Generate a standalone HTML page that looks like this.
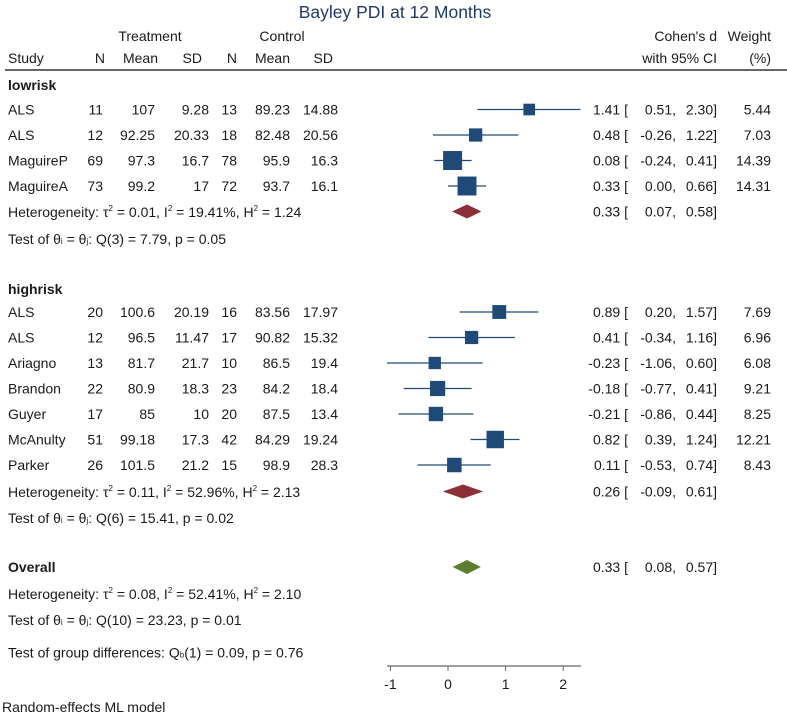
<!DOCTYPE html>
<html><head><meta charset="utf-8"><style>
body{margin:0;background:#fff}
svg{display:block;font-family:"Liberation Sans",Arial,sans-serif}
text{fill:#1a1a1a;font-size:14px}
</style></head><body>
<svg id="chart" width="787" height="714" viewBox="0 0 787 714">
<text x="395" y="18" text-anchor="middle" style="font-size:17.5px;fill:#1f3a68">Bayley PDI at 12 Months</text>
<g>
<text x="150" y="41" text-anchor="middle">Treatment</text>
<text x="282" y="41" text-anchor="middle">Control</text>
<text x="8" y="63">Study</text>
<text x="105" y="63" text-anchor="end">N</text>
<text x="158" y="63" text-anchor="end">Mean</text>
<text x="202" y="63" text-anchor="end">SD</text>
<text x="237" y="63" text-anchor="end">N</text>
<text x="290" y="63" text-anchor="end">Mean</text>
<text x="333" y="63" text-anchor="end">SD</text>
<text x="717" y="41" text-anchor="end">Cohen's d</text>
<text x="717" y="63" text-anchor="end">with 95% CI</text>
<text x="771" y="41" text-anchor="end">Weight</text>
<text x="771" y="63" text-anchor="end">(%)</text>
</g>
<line x1="5" y1="70" x2="787" y2="70" stroke="#333" stroke-width="1.5"/>
<g id="rows"></g>
<g id="axis"></g>
<text x="2" y="712">Random-effects ML model</text>
</svg>
<script>
const studies = ["ALS","ALS","MaguireP","MaguireA","ALS","ALS","Ariagno","Brandon","Guyer","McAnulty","Parker"];
const tN = ["11","12","69","73","20","12","13","22","17","51","26"];
const tMean = ["107","92.25","97.3","99.2","100.6","96.5","81.7","80.9","85","99.18","101.5"];
const tSD = ["9.28","20.33","16.7","17","20.19","11.47","21.7","18.3","10","17.3","21.2"];
const cN = ["13","18","78","72","16","17","10","23","20","42","15"];
const cMean = ["89.23","82.48","95.9","93.7","83.56","90.82","86.5","84.2","87.5","84.29","98.9"];
const cSD = ["14.88","20.56","16.3","16.1","17.97","15.32","19.4","18.4","13.4","19.24","28.3"];
const est = [1.41,0.48,0.08,0.33,0.89,0.41,-0.23,-0.18,-0.21,0.82,0.11];
const lo = [0.51,-0.26,-0.24,0.00,0.20,-0.34,-1.06,-0.77,-0.86,0.39,-0.53];
const hi = [2.30,1.22,0.41,0.66,1.57,1.16,0.60,0.41,0.44,1.24,0.74];
const weights = [5.44,7.03,14.39,14.31,7.69,6.96,6.08,9.21,8.25,12.21,8.43];
const group = [0,0,0,0,1,1,1,1,1,1,1];
const summaryNames = ["lowrisk","highrisk","overall"];
const summaryEst = [0.33,0.26,0.33];
const summaryLo = [0.07,-0.09,0.08];
const summaryHi = [0.58,0.61,0.57];
const ticks = [-1,0,1,2];

const NS="http://www.w3.org/2000/svg";
const X = v => 448 + v*57.6;
const rowsG = document.getElementById('rows');
const rowY = [109.5,135,160.5,186,312,337.5,363,388.5,414,439.5,465];
function t(x,y,s,anchor,extra){const e=document.createElementNS(NS,'text');e.setAttribute('x',x);e.setAttribute('y',y);if(anchor)e.setAttribute('text-anchor',anchor);if(extra)e.setAttribute('style',extra);e.innerHTML=s;return e;}
function f(v){return v.toFixed(2);}
function ciText(g,y,e,l,h){
  g.appendChild(t(628,y,f(e)+" [","end"));
  g.appendChild(t(676,y,f(l)+",","end"));
  g.appendChild(t(717,y,f(h)+"]","end"));
}
studies.forEach((s,i)=>{
  const g=document.createElementNS(NS,'g');
  
  
  const y=rowY[i], b=y+5;
  g.appendChild(t(8,b,s));
  g.appendChild(t(103,b,tN[i],"end"));
  g.appendChild(t(155,b,tMean[i],"end"));
  g.appendChild(t(209,b,tSD[i],"end"));
  g.appendChild(t(237,b,cN[i],"end"));
  g.appendChild(t(290,b,cMean[i],"end"));
  g.appendChild(t(338,b,cSD[i],"end"));
  const ln=document.createElementNS(NS,'line');
  
  
  ln.setAttribute('x1',X(lo[i]));ln.setAttribute('x2',X(hi[i]));ln.setAttribute('y1',y);ln.setAttribute('y2',y);
  ln.setAttribute('stroke','#1f4a78');ln.setAttribute('stroke-width','1.2');
  g.appendChild(ln);
  const sz=5*Math.sqrt(weights[i]);
  const r=document.createElementNS(NS,'rect');
  
  
  r.setAttribute('x',X(est[i])-sz/2);r.setAttribute('y',y-sz/2);r.setAttribute('width',sz);r.setAttribute('height',sz);r.setAttribute('fill','#1f4a78');
  g.appendChild(r);
  ciText(g,b,est[i],lo[i],hi[i]);
  g.appendChild(t(771,b,f(weights[i]),"end"));
  rowsG.appendChild(g);
});
// group labels & summaries
const bold="font-weight:bold";
const sumY=[211.5,491.5,567];
const sumColor=["#8c3038","#8c3038","#5a7d2e"];
const labels=[[85,"lowrisk"],[289,"highrisk"],[567,"Overall"]];
labels.forEach(l=>{const e=t(8,l[0]+5,l[1],null,bold);
  
  
  rowsG.appendChild(e);});
const stats=[
 [212,"Heterogeneity: τ<tspan dy='-6' font-size='8'>2</tspan><tspan dy='6'> = 0.01, I</tspan><tspan dy='-6' font-size='8'>2</tspan><tspan dy='6'> = 19.41%, H</tspan><tspan dy='-6' font-size='8'>2</tspan><tspan dy='6'> = 1.24</tspan>"],
 [239,"Test of θ<tspan font-size='8'>i</tspan> = θ<tspan font-size='8'>j</tspan>: Q(3) = 7.79, p = 0.05"],
 [492,"Heterogeneity: τ<tspan dy='-6' font-size='8'>2</tspan><tspan dy='6'> = 0.11, I</tspan><tspan dy='-6' font-size='8'>2</tspan><tspan dy='6'> = 52.96%, H</tspan><tspan dy='-6' font-size='8'>2</tspan><tspan dy='6'> = 2.13</tspan>"],
 [518,"Test of θ<tspan font-size='8'>i</tspan> = θ<tspan font-size='8'>j</tspan>: Q(6) = 15.41, p = 0.02"],
 [594,"Heterogeneity: τ<tspan dy='-6' font-size='8'>2</tspan><tspan dy='6'> = 0.08, I</tspan><tspan dy='-6' font-size='8'>2</tspan><tspan dy='6'> = 52.41%, H</tspan><tspan dy='-6' font-size='8'>2</tspan><tspan dy='6'> = 2.10</tspan>"],
 [620,"Test of θ<tspan font-size='8'>i</tspan> = θ<tspan font-size='8'>j</tspan>: Q(10) = 23.23, p = 0.01"],
 [652.5,"Test of group differences: Q<tspan font-size='8'>b</tspan>(1) = 0.09, p = 0.76"]];
stats.forEach(s=>{const e=t(8,s[0]+5,s[1]);
  
  
  rowsG.appendChild(e);});
summaryNames.forEach((n,i)=>{
  const y=sumY[i];
  const p=document.createElementNS(NS,'polygon');
  
  
  p.setAttribute('points',`${X(summaryLo[i])},${y} ${X(summaryEst[i])},${y-7} ${X(summaryHi[i])},${y} ${X(summaryEst[i])},${y+7}`);
  p.setAttribute('fill',sumColor[i]);
  rowsG.appendChild(p);
  const g=document.createElementNS(NS,'g');
  
  
  ciText(g,y+5,summaryEst[i],summaryLo[i],summaryHi[i]);
  rowsG.appendChild(g);
});
// axis
const ax=document.getElementById('axis');
const al=document.createElementNS(NS,'line');
al.setAttribute('x1',387);al.setAttribute('x2',581);al.setAttribute('y1',666);al.setAttribute('y2',666);al.setAttribute('stroke','#666');al.setAttribute('stroke-width','1.2');
ax.appendChild(al);
ticks.forEach(v=>{
  const tk=document.createElementNS(NS,'line');
  
  
  tk.setAttribute('x1',X(v));tk.setAttribute('x2',X(v));tk.setAttribute('y1',666);tk.setAttribute('y2',671);tk.setAttribute('stroke','#666');
  ax.appendChild(tk);
  const lb=t(X(v),689,String(v),"middle");
  
  
  ax.appendChild(lb);
});
</script>
</body></html>
